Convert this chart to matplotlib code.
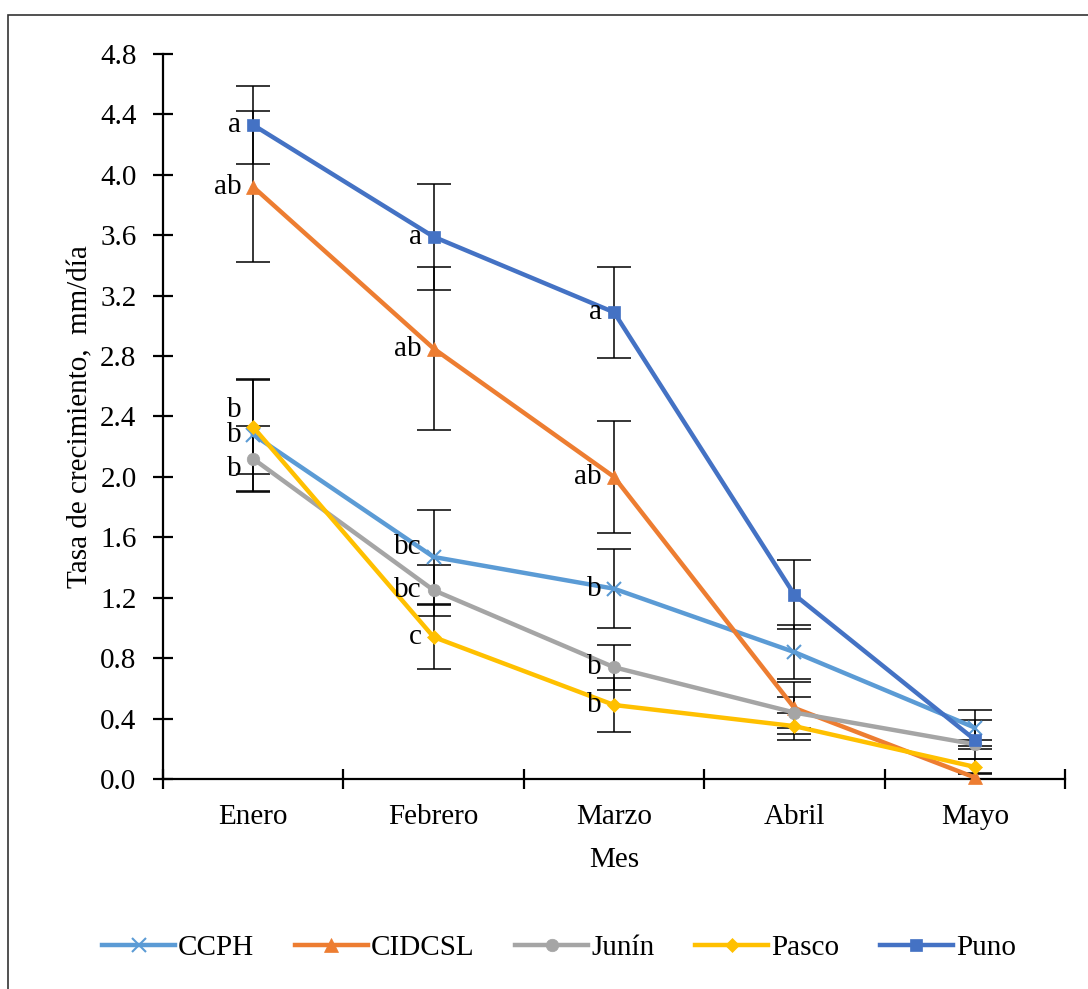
import matplotlib
matplotlib.use("Agg")
import matplotlib.pyplot as plt
from matplotlib.patches import Rectangle

# data
meses = ['Enero', 'Febrero', 'Marzo', 'Abril', 'Mayo']

ccph = [2.28, 1.47, 1.26, 0.84, 0.34]
ccph_err = [0.37, 0.31, 0.26, 0.18, 0.12]
ccph_let = ['b', 'bc', 'b', '', '']

cidcsl = [3.92, 2.85, 2.00, 0.47, 0.01]
cidcsl_err = [0.50, 0.54, 0.37, 0.17, 0.03]
cidcsl_let = ['ab', 'ab', 'ab', '', '']

junin = [2.12, 1.25, 0.74, 0.44, 0.23]
junin_err = [0.22, 0.17, 0.15, 0.10, 0.03]
junin_let = ['b', 'bc', 'b', '', '']

pasco = [2.33, 0.94, 0.49, 0.35, 0.08]
pasco_err = [0.31, 0.21, 0.18, 0.09, 0.05]
pasco_let = ['b', 'c', 'b', '', '']

puno = [4.33, 3.59, 3.09, 1.22, 0.26]
puno_err = [0.26, 0.35, 0.30, 0.23, 0.13]
puno_let = ['a', 'a', 'a', '', '']

plt.rcParams['font.family'] = ['Liberation Serif', 'DejaVu Serif']
FS = 21

fig = plt.figure(figsize=(10.88, 9.89), dpi=100)
ax = fig.add_axes([163/1088, 1-779/989, (1065-163)/1088, (779-54)/989])

series = [
    ('CCPH', ccph, ccph_err, ccph_let, '#5B9BD5', 'x', 10),
    ('CIDCSL', cidcsl, cidcsl_err, cidcsl_let, '#ED7D31', '^', 10),
    ('Junín', junin, junin_err, junin_let, '#A5A5A5', 'o', 9),
    ('Pasco', pasco, pasco_err, pasco_let, '#FFC000', 'D', 7),
    ('Puno', puno, puno_err, puno_let, '#4472C4', 's', 9),
]

# vertical nudges of letter labels (pixels) where they were stacked
nudge = {('CCPH', 1): 10, ('Pasco', 0): 17, ('Junín', 0): -10}

x = list(range(len(meses)))
for i, (name, vals, err, lets, col, mk, ms) in enumerate(series):
    ax.errorbar(x, vals, yerr=err, fmt='none', ecolor='black', elinewidth=1.1,
                capsize=12, capthick=1.1, zorder=2)
    ax.plot(x, vals, color=col, lw=3.2, marker=mk, markersize=ms,
            markeredgewidth=1.5 if mk == 'x' else 0.5, markeredgecolor=col,
            label=name, zorder=3 + i, clip_on=False)
    for j, t in enumerate(lets):
        if t:
            ax.annotate(t, (j, vals[j]), xytext=(-12, nudge.get((name, j), 0)),
                        textcoords='offset pixels', ha='right', va='center',
                        fontsize=FS, zorder=10)

ax.set_xlim(-0.5, 4.5)
ax.set_ylim(0, 4.8)
ax.set_yticks([i * 0.4 for i in range(13)])
ax.set_yticklabels([f'{i * 0.4:.1f}' for i in range(13)])
ax.set_xticks([i - 0.5 for i in range(6)])
ax.set_xticklabels([])
ax.set_xticks(x, minor=True)
ax.set_xticklabels(meses, minor=True)

for s in ['top', 'right']:
    ax.spines[s].set_visible(False)
for s in ['left', 'bottom']:
    ax.spines[s].set_linewidth(1.6)
ax.tick_params(axis='both', which='major', direction='inout', length=14, width=1.6,
               labelsize=FS)
ax.tick_params(axis='y', pad=12)
ax.tick_params(axis='x', which='minor', length=0, labelsize=FS, pad=18)

ax.set_ylabel('Tasa de crecimiento,  mm/día', fontsize=FS, labelpad=5)
ax.set_xlabel('Mes', fontsize=FS, labelpad=12)

ax.legend(loc='center', bbox_to_anchor=(559/1088, 1-948/989), bbox_transform=fig.transFigure,
          ncol=5, frameon=False, fontsize=FS, handlelength=2.5, handletextpad=0.1,
          columnspacing=1.4)

fig.patches.append(Rectangle((8/1088, -0.1), 1.2, 1 - 15/989 + 0.1,
                             transform=fig.transFigure, fill=False,
                             edgecolor='#333333', lw=1.2))

fig.savefig('out.png', dpi=100)
